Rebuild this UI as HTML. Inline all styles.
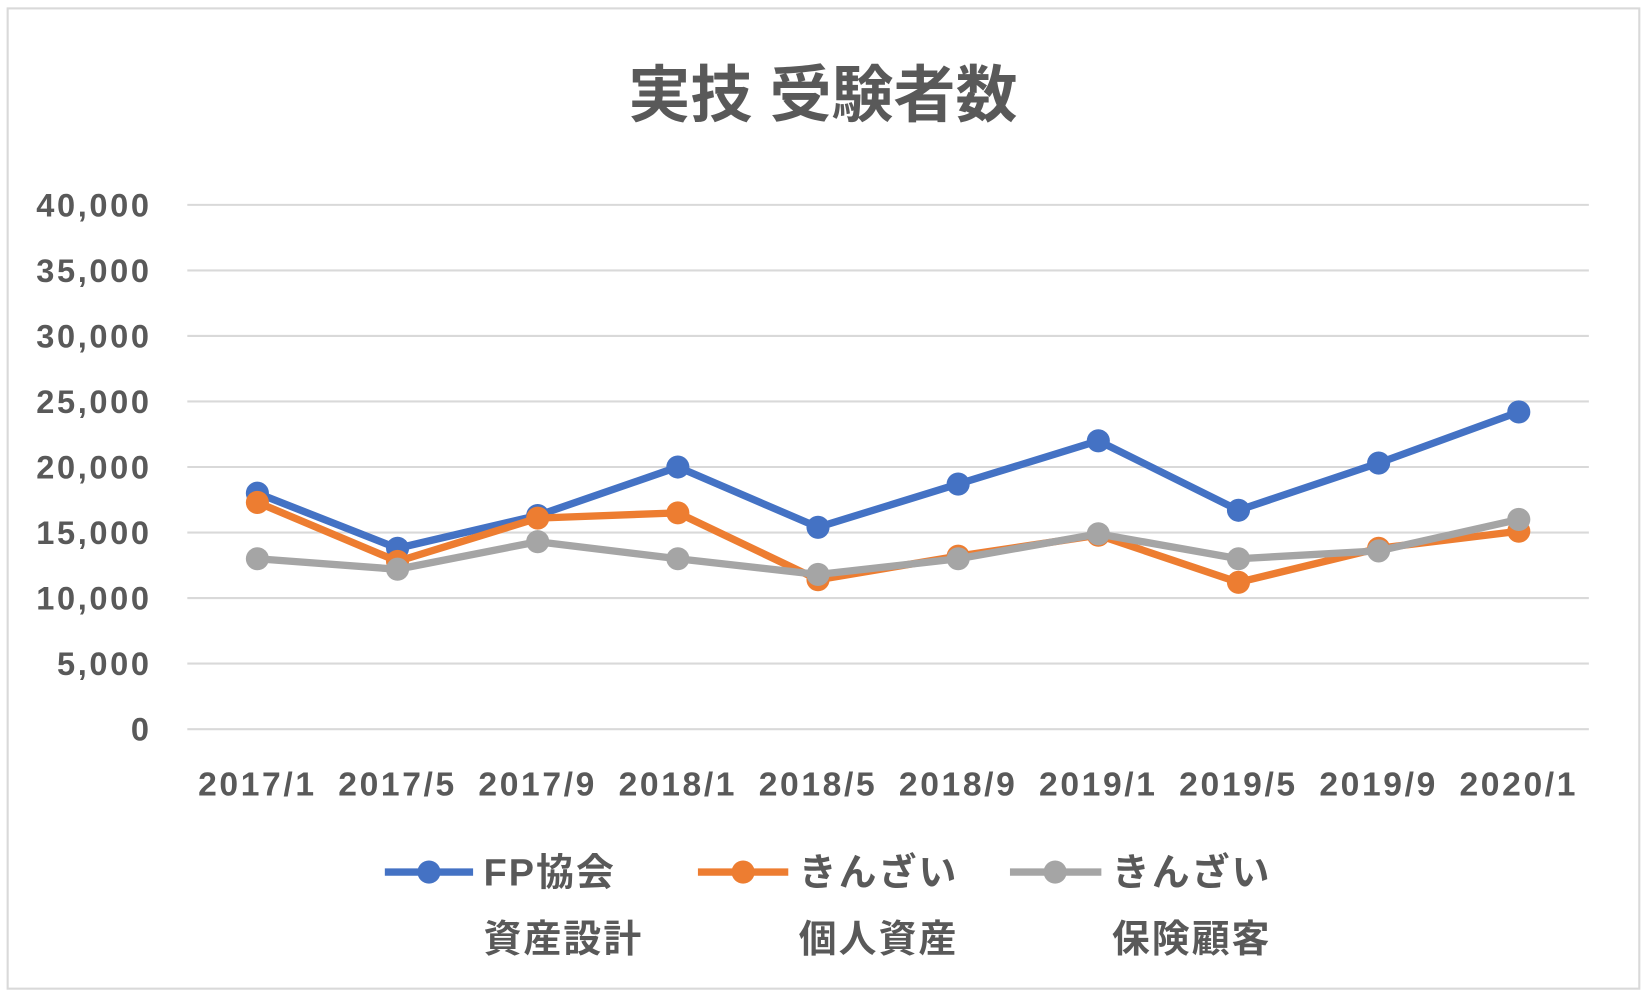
<!DOCTYPE html>
<html><head><meta charset="utf-8"><style>
html,body{margin:0;padding:0;background:#fff}
svg{display:block}
text{font-family:"Liberation Sans","Noto Sans CJK JP",sans-serif;fill:#595959;font-weight:bold}
</style></head><body>
<svg id="chart" width="1648" height="996" viewBox="0 0 1568 948" xmlns="http://www.w3.org/2000/svg">
<rect x="7" y="8" width="1553" height="933" fill="#fff" stroke="#d9d9d9" stroke-width="2"/>
<text x="783" y="111" font-size="59" text-anchor="middle">実技 受験者数</text>
<g id="grid"></g><g id="ylab"></g><g id="xlab"></g><g id="series"></g>
<g>
<g>
<line x1="366" y1="830" x2="450" y2="830" stroke="#4472c4" stroke-width="7"/><circle cx="408" cy="830" r="11" fill="#4472c4"/>
<text x="460" y="843" font-size="36" letter-spacing="2">FP協会</text><text x="460" y="906" font-size="36" letter-spacing="2">資産設計</text></g>
<g>
<line x1="664" y1="830" x2="750" y2="830" stroke="#ed7d31" stroke-width="7"/><circle cx="707" cy="830" r="11" fill="#ed7d31"/>
<text x="760" y="843" font-size="36" letter-spacing="2">きんざい</text><text x="760" y="906" font-size="36" letter-spacing="2">個人資産</text></g>
<g>
<line x1="961" y1="830" x2="1048" y2="830" stroke="#a5a5a5" stroke-width="7"/><circle cx="1004" cy="830" r="11" fill="#a5a5a5"/>
<text x="1058" y="843" font-size="36" letter-spacing="2">きんざい</text><text x="1058" y="906" font-size="36" letter-spacing="2">保険顧客</text></g>
</g>
</svg>
<script>
const categories=["2017/1","2017/5","2017/9","2018/1","2018/5","2018/9","2019/1","2019/5","2019/9","2020/1"];
const fpValues=[18000,13800,16300,20000,15400,18700,22000,16700,20300,24200];
const kojinValues=[17300,12800,16100,16500,11400,13200,14800,11200,13800,15100];
const hokenValues=[13000,12200,14300,13000,11800,13000,14900,13000,13600,16000];
const yTicks=[0,5000,10000,15000,20000,25000,30000,35000,40000];
const yTickLabels=["0","5,000","10,000","15,000","20,000","25,000","30,000","35,000","40,000"];
const NS="http://www.w3.org/2000/svg";
const x0=178,x1=1512,yTop=195,yBot=694,yMax=40000;
const band=(x1-x0)/categories.length;
const xs=i=>x0+band*(i+0.5);
const ys=v=>yBot-(v/yMax)*(yBot-yTop);
function mk(tag,attrs,parent){const e=document.createElementNS(NS,tag);for(const k in attrs)e.setAttribute(k,attrs[k]);parent.appendChild(e);return e;}
const grid=document.getElementById('grid'),ylab=document.getElementById('ylab'),xlab=document.getElementById('xlab'),ser=document.getElementById('series');
yTicks.forEach((t,i)=>{
 const l=mk('line',{x1:x0,x2:x1,y1:ys(t),y2:ys(t),stroke:'#d9d9d9','stroke-width':2},grid);
 
 
 const tx=mk('text',{x:144,y:ys(t)+11,'font-size':31,'letter-spacing':2.5,'text-anchor':'end'},ylab);
 tx.textContent=yTickLabels[i];
 
 
});
categories.forEach((c,i)=>{
 const tx=mk('text',{x:xs(i),y:757,'font-size':32,'letter-spacing':2.5,'text-anchor':'middle'},xlab);
 tx.textContent=c;
 
 
});
[[fpValues,'#4472c4','fp'],[kojinValues,'#ed7d31','kojin'],[hokenValues,'#a5a5a5','hoken']].forEach(([vals,col,nm])=>{
 const g=mk('g',{},ser);
 
 
 const p=mk('polyline',{points:vals.map((v,i)=>xs(i)+','+ys(v)).join(' '),fill:'none',stroke:col,'stroke-width':7,'stroke-linejoin':'round'},g);
 
 
 vals.forEach((v,i)=>{
  const c=mk('circle',{cx:xs(i),cy:ys(v),r:11,fill:col},g);
  
  
 });
});
</script>
</body></html>
